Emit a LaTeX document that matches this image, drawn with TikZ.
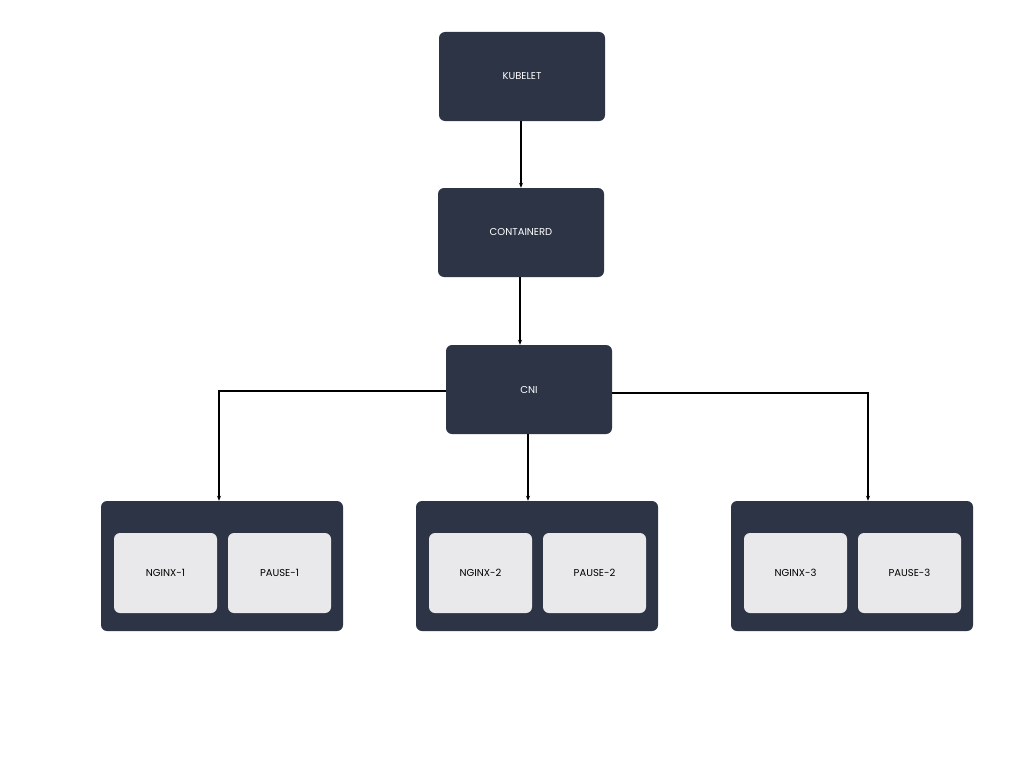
\documentclass[tikz,border=0pt]{standalone}
\usepackage{fontspec}
\setmainfont{Poppins}
\usetikzlibrary{arrows.meta}
\definecolor{dark}{HTML}{2D3446}
\definecolor{lite}{HTML}{E9E9EB}
\begin{document}
\begin{tikzpicture}[x=1pt,y=-1pt,
 db/.style={fill=dark,rounded corners=6pt,draw=none,text=white,font=\fontsize{10}{12}\selectfont},
 lb/.style={fill=lite,rounded corners=6pt,draw=none,text=black,font=\fontsize{10}{12}\selectfont},
 arr/.style={draw=black,line width=1.1pt,-{Stealth[length=5pt,width=4pt]}}]
\useasboundingbox (0,0) rectangle (1024,768);
\fill[white] (0,0) rectangle (1024,768);
\node[db,minimum width=166pt,minimum height=89pt] (kub) at (522,76.5) {KUBELET};
\node[db,minimum width=166pt,minimum height=89pt] (con) at (521,232.5) {CONTAINERD};
\node[db,minimum width=166pt,minimum height=89pt] (cni) at (529,389.5) {CNI};
\foreach \i/\cx in {1/222,2/537,3/852}{
 \node[db,minimum width=242pt,minimum height=130pt] (pod\i) at (\cx,566) {};
 \node[lb,minimum width=103pt,minimum height=80pt] (ng\i) at (\cx-56.5,573) {NGINX-\i};
 \node[lb,minimum width=103pt,minimum height=80pt] (pa\i) at (\cx+57.5,573) {PAUSE-\i};
}
\draw[arr] (kub.south -| 521,0) -- (con.north -| 521,0);
\draw[arr] (con.south -| 520,0) -- (cni.north -| 520,0);
\draw[arr] (cni.south -| 528,0) -- (pod2.north -| 528,0);
\draw[arr] (cni.west |- 0,391) -- (219,391) -- (pod1.north -| 219,0);
\draw[arr] (cni.east |- 0,393) -- (868,393) -- (pod3.north -| 868,0);
\end{tikzpicture}
\end{document}
